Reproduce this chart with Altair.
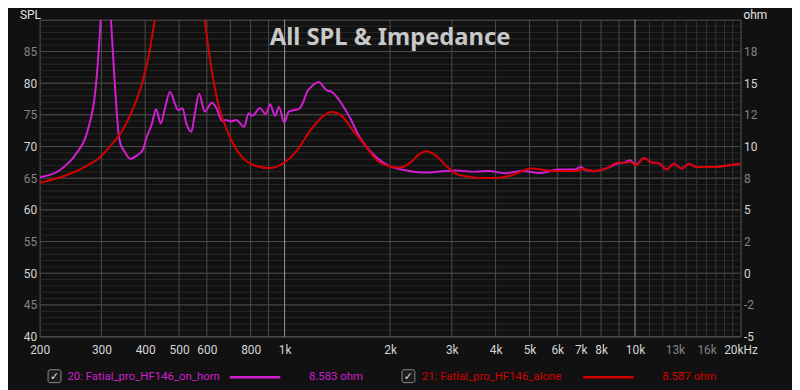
import altair as alt
import pandas as pd

# ---------------- data ----------------
horn_name = "20: Fatial_pro_HF146_on_horn"
horn_value = "8.583 ohm"
horn_freq = [200, 228, 254, 274, 289, 299, 308, 319, 326, 336,
             340, 348, 363, 379, 394, 404, 418, 430, 443, 456,
             471, 487, 497, 511, 525, 542, 554, 570, 592, 620,
             638, 663, 681, 703, 727, 767, 789, 810, 850, 883,
             909, 939, 964, 997, 1028, 1062, 1097, 1128, 1163, 1183,
             1250, 1319, 1362, 1438, 1535, 1638, 1748, 1826, 1991, 2173,
             2368, 2582, 2818, 3073, 3500, 3816, 4253, 4742, 5400, 6016,
             6706, 7006, 7238, 7638, 8330, 8888, 9284, 9698, 10018, 10622,
             11162, 11658, 12304, 12912, 13568, 14262, 14956, 16672, 18584, 20000]
horn_ohm = [7.58, 8.13, 9.43, 11.25, 14.63, 20.2, 27.0, 20.3, 15.94, 11.0,
            10.21, 9.69, 9.04, 9.30, 9.74, 10.73, 11.77, 12.95, 11.82, 13.07,
            14.32, 13.34, 12.87, 13.02, 11.77, 11.17, 12.55, 14.16, 12.76, 13.46,
            13.07, 12.03, 12.09, 11.98, 12.09, 11.56, 12.63, 12.42, 13.05, 12.55,
            13.34, 12.42, 13.13, 11.90, 12.76, 12.87, 12.95, 13.46, 14.38, 14.63,
            15.10, 14.43, 14.32, 13.59, 12.29, 10.73, 9.69, 9.16, 8.46, 8.18,
            7.99, 7.95, 8.05, 8.10, 8.02, 8.07, 7.89, 8.07, 7.91, 8.18,
            8.18, 8.38, 8.13, 8.07, 8.30, 8.65, 8.73, 8.91, 8.57, 9.09,
            8.73, 8.70, 8.20, 8.65, 8.26, 8.65, 8.38, 8.38, 8.52, 8.62]

alone_name = "21: Fatial_pro_HF146_alone"
alone_value = "8.587 ohm"
alone_freq = [200, 238, 271, 299, 322, 344, 367, 391, 409, 425,
              445, 475, 500, 530, 560, 592, 618, 645, 689, 749,
              817, 902, 995, 1085, 1183, 1291, 1362, 1454, 1569, 1711,
              1826, 1991, 2125, 2293, 2420, 2528, 2698, 2879, 3073, 3278,
              3500, 3986, 4444, 5060, 5888, 6706, 7158, 7638, 8330, 8888,
              9486, 9698, 10082, 10622, 11162, 11658, 12304, 12912, 13568, 14262,
              14956, 16672, 18584, 20000]
alone_ohm = [7.13, 7.73, 8.44, 9.22, 10.21, 11.25, 12.81, 14.90, 17.11, 19.84,
             24.0, 30.0, 33.0, 30.0, 24.0, 19.84, 16.20, 13.46, 11.12, 9.30,
             8.52, 8.30, 8.70, 9.69, 11.25, 12.42, 12.73, 12.42, 11.25, 9.95,
             8.96, 8.44, 8.34, 8.77, 9.38, 9.63, 9.30, 8.52, 7.87, 7.66,
             7.54, 7.52, 7.73, 8.26, 8.07, 8.07, 8.20, 8.07, 8.30, 8.73,
             8.73, 8.77, 8.52, 9.09, 8.73, 8.70, 8.20, 8.65, 8.26, 8.65,
             8.38, 8.38, 8.52, 8.62]

title_text = "All SPL & Impedance"
left_title = "SPL"
right_title = "ohm"

x_tick_values = [200, 300, 400, 500, 600, 800, 1000, 2000, 3000, 4000, 5000,
                 6000, 7000, 8000, 10000, 13000, 16000, 20000]
x_tick_labels = ["200", "300", "400", "500", "600", "800", "1k", "2k", "3k", "4k", "5k",
                 "6k", "7k", "8k", "10k", "13k", "16k", "20kHz"]
x_dim_ticks = [13000, 16000]

ohm_ticks = [-5, -2.5, 0, 2.5, 5, 7.5, 10, 12.5, 15, 17.5]
spl_labels = ["40", "45", "50", "55", "60", "65", "70", "75", "80", "85"]
ohm_labels = ["-5", "-2", "0", "2", "5", "8", "10", "12", "15", "18"]

grid_freqs = [300, 400, 500, 600, 700, 800, 900, 2000, 3000, 4000, 5000,
              6000, 7000, 8000, 9000]
decade_freqs = [1000, 10000]
high_freqs = [11000, 12000, 13000, 14000, 15000, 16000, 17000, 18000, 19000]
minor_ohm = [-5 + 0.5 * i for i in range(51)]

# ---------------- styling ----------------
BG = "#111111"
MAG = "#d01ed0"
RED = "#d60000"
LABEL_BRIGHT = "#d6d6d6"
LABEL_DIM = "#858585"
FONT = "Roboto"

xs = alt.Scale(type="log", domain=[200, 20000], nice=False)
ys = alt.Scale(domain=[-5, 20], nice=False, zero=False)


def label_expr(values, labels):
    expr = "''"
    for v, l in reversed(list(zip(values, labels))):
        expr = f"datum.value === {v} ? '{l}' : ({expr})"
    return expr


dim_test = " || ".join(f"datum.value === {v}" for v in x_dim_ticks)

x_axis = alt.Axis(values=x_tick_values, labelExpr=label_expr(x_tick_values, x_tick_labels),
                  title=None, grid=False, domain=False, ticks=False, tickSize=0,
                  labelFlush=False, labelOverlap=False, labelBound=False,
                  labelPadding=8, labelFont=FONT, labelFontSize=12,
                  labelColor={"condition": {"test": dim_test, "value": LABEL_DIM},
                              "value": LABEL_BRIGHT})

left_axis = alt.Axis(values=ohm_ticks, labelExpr=label_expr(ohm_ticks, spl_labels),
                     orient="left", title=None, grid=False, domain=False, ticks=False,
                     tickSize=0, labelPadding=3, labelFont=FONT, labelFontSize=12,
                     labelFlush=False, labelOverlap=False,
                     labelColor={"condition": {"test": "datum.value % 5 === 0", "value": LABEL_BRIGHT},
                                 "value": LABEL_DIM})

right_axis = alt.Axis(values=ohm_ticks, labelExpr=label_expr(ohm_ticks, ohm_labels),
                      orient="right", title=None, grid=False, domain=False, ticks=False,
                      tickSize=0, labelPadding=3, labelFont=FONT, labelFontSize=12,
                      labelFlush=False, labelOverlap=False,
                      labelColor={"condition": {"test": "datum.value % 5 === 0", "value": LABEL_BRIGHT},
                                  "value": LABEL_DIM})

X = alt.X("freq:Q", scale=xs, axis=x_axis)

# ---------------- grid ----------------
minor_h = alt.Chart(pd.DataFrame({"ohm": minor_ohm})).mark_rule(
    color="#282828", strokeWidth=1).encode(y=alt.Y("ohm:Q", scale=ys, axis=None))
major_h = alt.Chart(pd.DataFrame({"ohm": ohm_ticks})).mark_rule(
    color="#4c4c4c", strokeWidth=1).encode(y=alt.Y("ohm:Q", scale=ys, axis=None))
vgrid = alt.Chart(pd.DataFrame({"freq": grid_freqs})).mark_rule(
    color="#4c4c4c", strokeWidth=1).encode(x=X)
vhigh = alt.Chart(pd.DataFrame({"freq": high_freqs})).mark_rule(
    color="#363636", strokeWidth=1).encode(x=X)
vdec = alt.Chart(pd.DataFrame({"freq": decade_freqs})).mark_rule(
    color="#9a9a9a", strokeWidth=1).encode(x=X)

# ---------------- curves ----------------
horn = alt.Chart(pd.DataFrame({"freq": horn_freq, "ohm": horn_ohm})).mark_line(
    color=MAG, strokeWidth=2, clip=True, interpolate="monotone").encode(
    x=X, y=alt.Y("ohm:Q", scale=ys, axis=left_axis))

alone = alt.Chart(pd.DataFrame({"freq": alone_freq, "ohm": alone_ohm})).mark_line(
    color=RED, strokeWidth=2, clip=True, interpolate="monotone").encode(
    x=X, y=alt.Y("ohm:Q", scale=ys, axis=right_axis))


# ---------------- text decorations ----------------
def text_layer(txt, x, y, **kw):
    return alt.Chart(pd.DataFrame({"t": [txt]})).mark_text(**kw).encode(
        text="t:N", x=alt.value(x), y=alt.value(y))


title = text_layer(title_text, 354, 25, font="Noto Sans", fontSize=24, fontWeight="bold",
                   color="#c8c8c8", align="center", baseline="alphabetic")
spl_t = text_layer(left_title, -20, -10, font=FONT, fontSize=12, color="#e6e6e6",
                   align="left", baseline="top")
ohm_t = text_layer(right_title, 711, -10, font=FONT, fontSize=12, color="#e6e6e6",
                   align="left", baseline="top")


def legend_item(box_x, text_x, line_x1, line_x2, val_x, y, name, value, color):
    box = alt.Chart(pd.DataFrame({"k": [name]})).mark_rect(
        fill="#1c1c1c", stroke="#8c8c8c", strokeWidth=1, cornerRadius=2).encode(
        x=alt.value(box_x - 6.5), x2=alt.value(box_x + 6.5),
        y=alt.value(y - 6.5), y2=alt.value(y + 6.5))
    check = text_layer("✓", box_x, y + 0.5, font="DejaVu Sans", fontSize=11,
                       color="#e4e4e4", align="center", baseline="middle")
    label = text_layer(name, text_x, y + 1, font=FONT, fontSize=11.5, color=color,
                       align="left", baseline="middle")
    line = alt.Chart(pd.DataFrame({"k": [name]})).mark_rule(
        color=color, strokeWidth=2.5).encode(
        x=alt.value(line_x1), x2=alt.value(line_x2), y=alt.value(y + 1))
    val = text_layer(value, val_x, y + 1, font=FONT, fontSize=11.5, color=color,
                     align="left", baseline="middle")
    return [box, check, label, line, val]


legend = (legend_item(15, 28, 192, 243, 272, 360, horn_name, horn_value, MAG)
          + legend_item(372.5, 386, 549, 600, 629, 360, alone_name, alone_value, RED))

chart = alt.layer(
    minor_h, major_h, vgrid, vhigh, vdec, horn, alone, title, spl_t, ohm_t, *legend
).resolve_axis(y="independent").properties(
    width=708, height=320, background=BG,
    padding={"left": 32, "top": 10, "right": 52, "bottom": 52},
    autosize=alt.AutoSizeParams(type="none"),
).configure_view(stroke="#5a5a5a", strokeWidth=1)

chart.save("out.html", embed_options={"renderer": "svg", "actions": False})
